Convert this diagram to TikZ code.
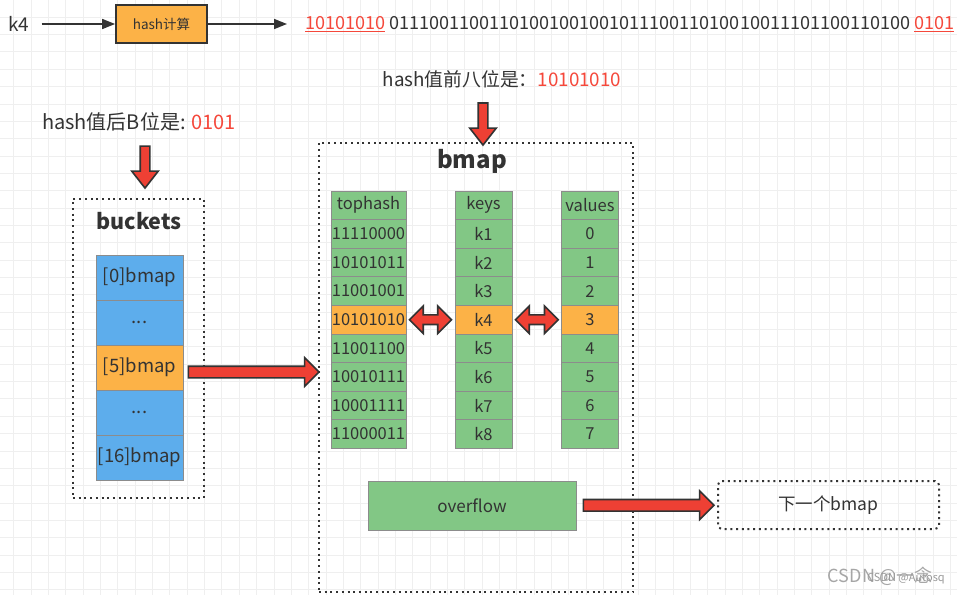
\documentclass[tikz,border=0pt]{standalone}
\usepackage{fontspec}
\setmainfont{Noto Sans CJK SC}
\usetikzlibrary{arrows.meta,shapes.arrows,calc}
\definecolor{gridc}{HTML}{EFEFEF}
\definecolor{txt}{HTML}{333333}
\definecolor{txtred}{HTML}{F5483B}
\definecolor{arrred}{HTML}{EE4034}
\definecolor{arrline}{HTML}{333333}
\definecolor{bluec}{HTML}{5DADEC}
\definecolor{orangec}{HTML}{FCB247}
\definecolor{greenc}{HTML}{82C785}
\definecolor{cellb}{HTML}{8C8C8C}
\newcommand{\fs}[1]{\fontsize{#1}{#1}\selectfont}
\begin{document}
\begin{tikzpicture}[x=1pt,y=-1pt,
  every node/.style={text=txt},
  thin arrow/.style={draw=txt, line width=1.6, -{Triangle[length=13pt,width=10pt]}},
  dotbox/.style={draw=txt, line width=2, dash pattern=on 2pt off 3.7pt},
  cell/.style={draw=cellb, line width=0.9, inner sep=0, minimum height=28.6, font=\fs{16.5}},
  bcell/.style={draw=cellb, line width=0.9, inner sep=0, minimum width=87, minimum height=45, fill=bluec, font=\fs{18.5}},
  bigarrow/.style={single arrow, draw=arrline, fill=arrred, line width=1.6, inner xsep=0, inner ysep=5,
    single arrow head extend=8.5, single arrow tip angle=90, anchor=center},
  downarrow/.style={single arrow, draw=arrline, fill=arrred, line width=1.6, inner xsep=0, inner ysep=4,
    single arrow head extend=8.5, single arrow tip angle=76, anchor=center, rotate=-90},
  dblarrow/.style={double arrow, draw=arrline, fill=arrred, line width=1.6, inner xsep=0, inner ysep=4,
    double arrow head extend=9, double arrow tip angle=90, anchor=center},
  label/.style={inner sep=0}
]
\useasboundingbox (0,0) rectangle (957,595);
\fill[white] (0,0) rectangle (957,595);
% background grid
\foreach \i in {0,...,55} \draw[gridc, line width=1] ({13.75+17.35*\i},0) -- ++(0,595);
\foreach \j in {0,...,33} \draw[gridc, line width=1] (0,{17.25+17.35*\j}) -- ++(957,0);

% top row
\node[font=\fs{19}, inner sep=0] (k4) at (19,24) {k4};
\node[draw=txt, line width=1.8, fill=orangec, minimum width=91, minimum height=38, inner sep=0, font=\fs{13.5}] (hash) at (161.5,24) {hash计算};
\draw[thin arrow] ([xshift=12]k4.east) -- (hash.west);
\node[anchor=west, inner xsep=18, inner ysep=0, font=\fs{18.05}] (bits) at (287,24)
  {\textcolor{txtred}{\underline{10101010}} 0111001100110100100100101110011010010011101100110100 \textcolor{txtred}{\underline{0101}}};
\draw[thin arrow] (hash.east) -- (bits.west);

% labels
\node[label, font=\fs{18.8}] (lab1) at (502,79) {hash值前八位是：\textcolor{txtred}{10101010}};
\node[label, font=\fs{20}] (lab2) at (139,122) {hash值后B位是: \textcolor{txtred}{0101}};

% buckets
\node[dotbox, minimum width=131, minimum height=299, inner sep=0] (buckets) at (138.5,348.5) {};
\node[font=\bfseries\fs{21.5}, inner sep=0] (btitle) at (139,221) {buckets};
\node[bcell] (b0) at (139.5,277.5) {[0]bmap};
\node[bcell] (b1) at (139.5,322.5) {...};
\node[bcell, fill=orangec] (b5) at (139.5,367.5) {[5]bmap};
\node[bcell] (b3) at (139.5,412.5) {...};
\node[bcell] (b16) at (139.5,457.5) {[16]bmap};

% bmap box
\node[dotbox, minimum width=314, minimum height=449, inner sep=0] (bmap) at (476,367.5) {};
\node[font=\bfseries\fs{24}, inner sep=0] (mtitle) at (472,161) {bmap};

\foreach \t/\c [count=\i from 0] in {tophash/greenc,11110000/greenc,10101011/greenc,11001001/greenc,10101010/orangec,11001100/greenc,10010111/greenc,10001111/greenc,11000011/greenc}
  \node[cell, fill=\c, minimum width=75] (th\i) at (368.5,{205.3+28.6*\i}) {\t};
\foreach \t/\c [count=\i from 0] in {keys/greenc,k1/greenc,k2/greenc,k3/greenc,k4/orangec,k5/greenc,k6/greenc,k7/greenc,k8/greenc}
  \node[cell, fill=\c, minimum width=57] (ky\i) at (483.5,{205.3+28.6*\i}) {\t};
\foreach \t/\c [count=\i from 0] in {values/greenc,0/greenc,1/greenc,2/greenc,3/orangec,4/greenc,5/greenc,6/greenc,7/greenc}
  \node[cell, fill=\c, minimum width=56.5] (vl\i) at (590,{205.3+28.6*\i}) {\t};

\node[draw=cellb, line width=0.9, fill=greenc, minimum width=208, minimum height=49, inner sep=0, font=\fs{17}] (overflow) at (472,505.5) {overflow};
\node[dotbox, rounded corners=4, minimum width=221, minimum height=48, inner sep=0, font=\fs{17.5}] (next) at (828.5,505) {下一个bmap};

% big arrows
\path let \p1=(lab1.south), \p2=(bmap.north) in
  node[downarrow, minimum height={\y1-\y2-12pt}] (a1) at ($(483,\y1)!0.5!(483,\y2)+(0,6)$) {};
\path let \p1=(lab2.south), \p2=(buckets.north) in
  node[downarrow, minimum height=42] (a2) at (145,164) {};
\path let \p1=(b5.east), \p2=(bmap.west) in
  node[bigarrow, minimum height={\x2-\x1-4pt}] (a3) at ($(\x1,372)!0.5!(\x2,372)$) {};
\path let \p1=(th4.east), \p2=(ky4.west) in
  node[dblarrow, minimum height={\x2-\x1-6pt}] (a4) at ($(th4.east)!0.5!(ky4.west)$) {};
\path let \p1=(ky4.east), \p2=(vl4.west) in
  node[dblarrow, minimum height={\x2-\x1-6pt}] (a5) at ($(ky4.east)!0.5!(vl4.west)$) {};
\path let \p1=(overflow.east), \p2=(next.west) in
  node[bigarrow, minimum height={\x2-\x1-10pt}] (a6) at ($(overflow.east)!0.5!(next.west)+(-1,0)$) {};

% watermark
\node[text=gray!70, font=\fs{18}, inner sep=0] (wm1) at (880,576) {CSDN @一念};
\node[text=gray!80, font=\fs{11}, inner sep=0] (wm2) at (906,579) {CSDN @Autosq};
\end{tikzpicture}
\end{document}
